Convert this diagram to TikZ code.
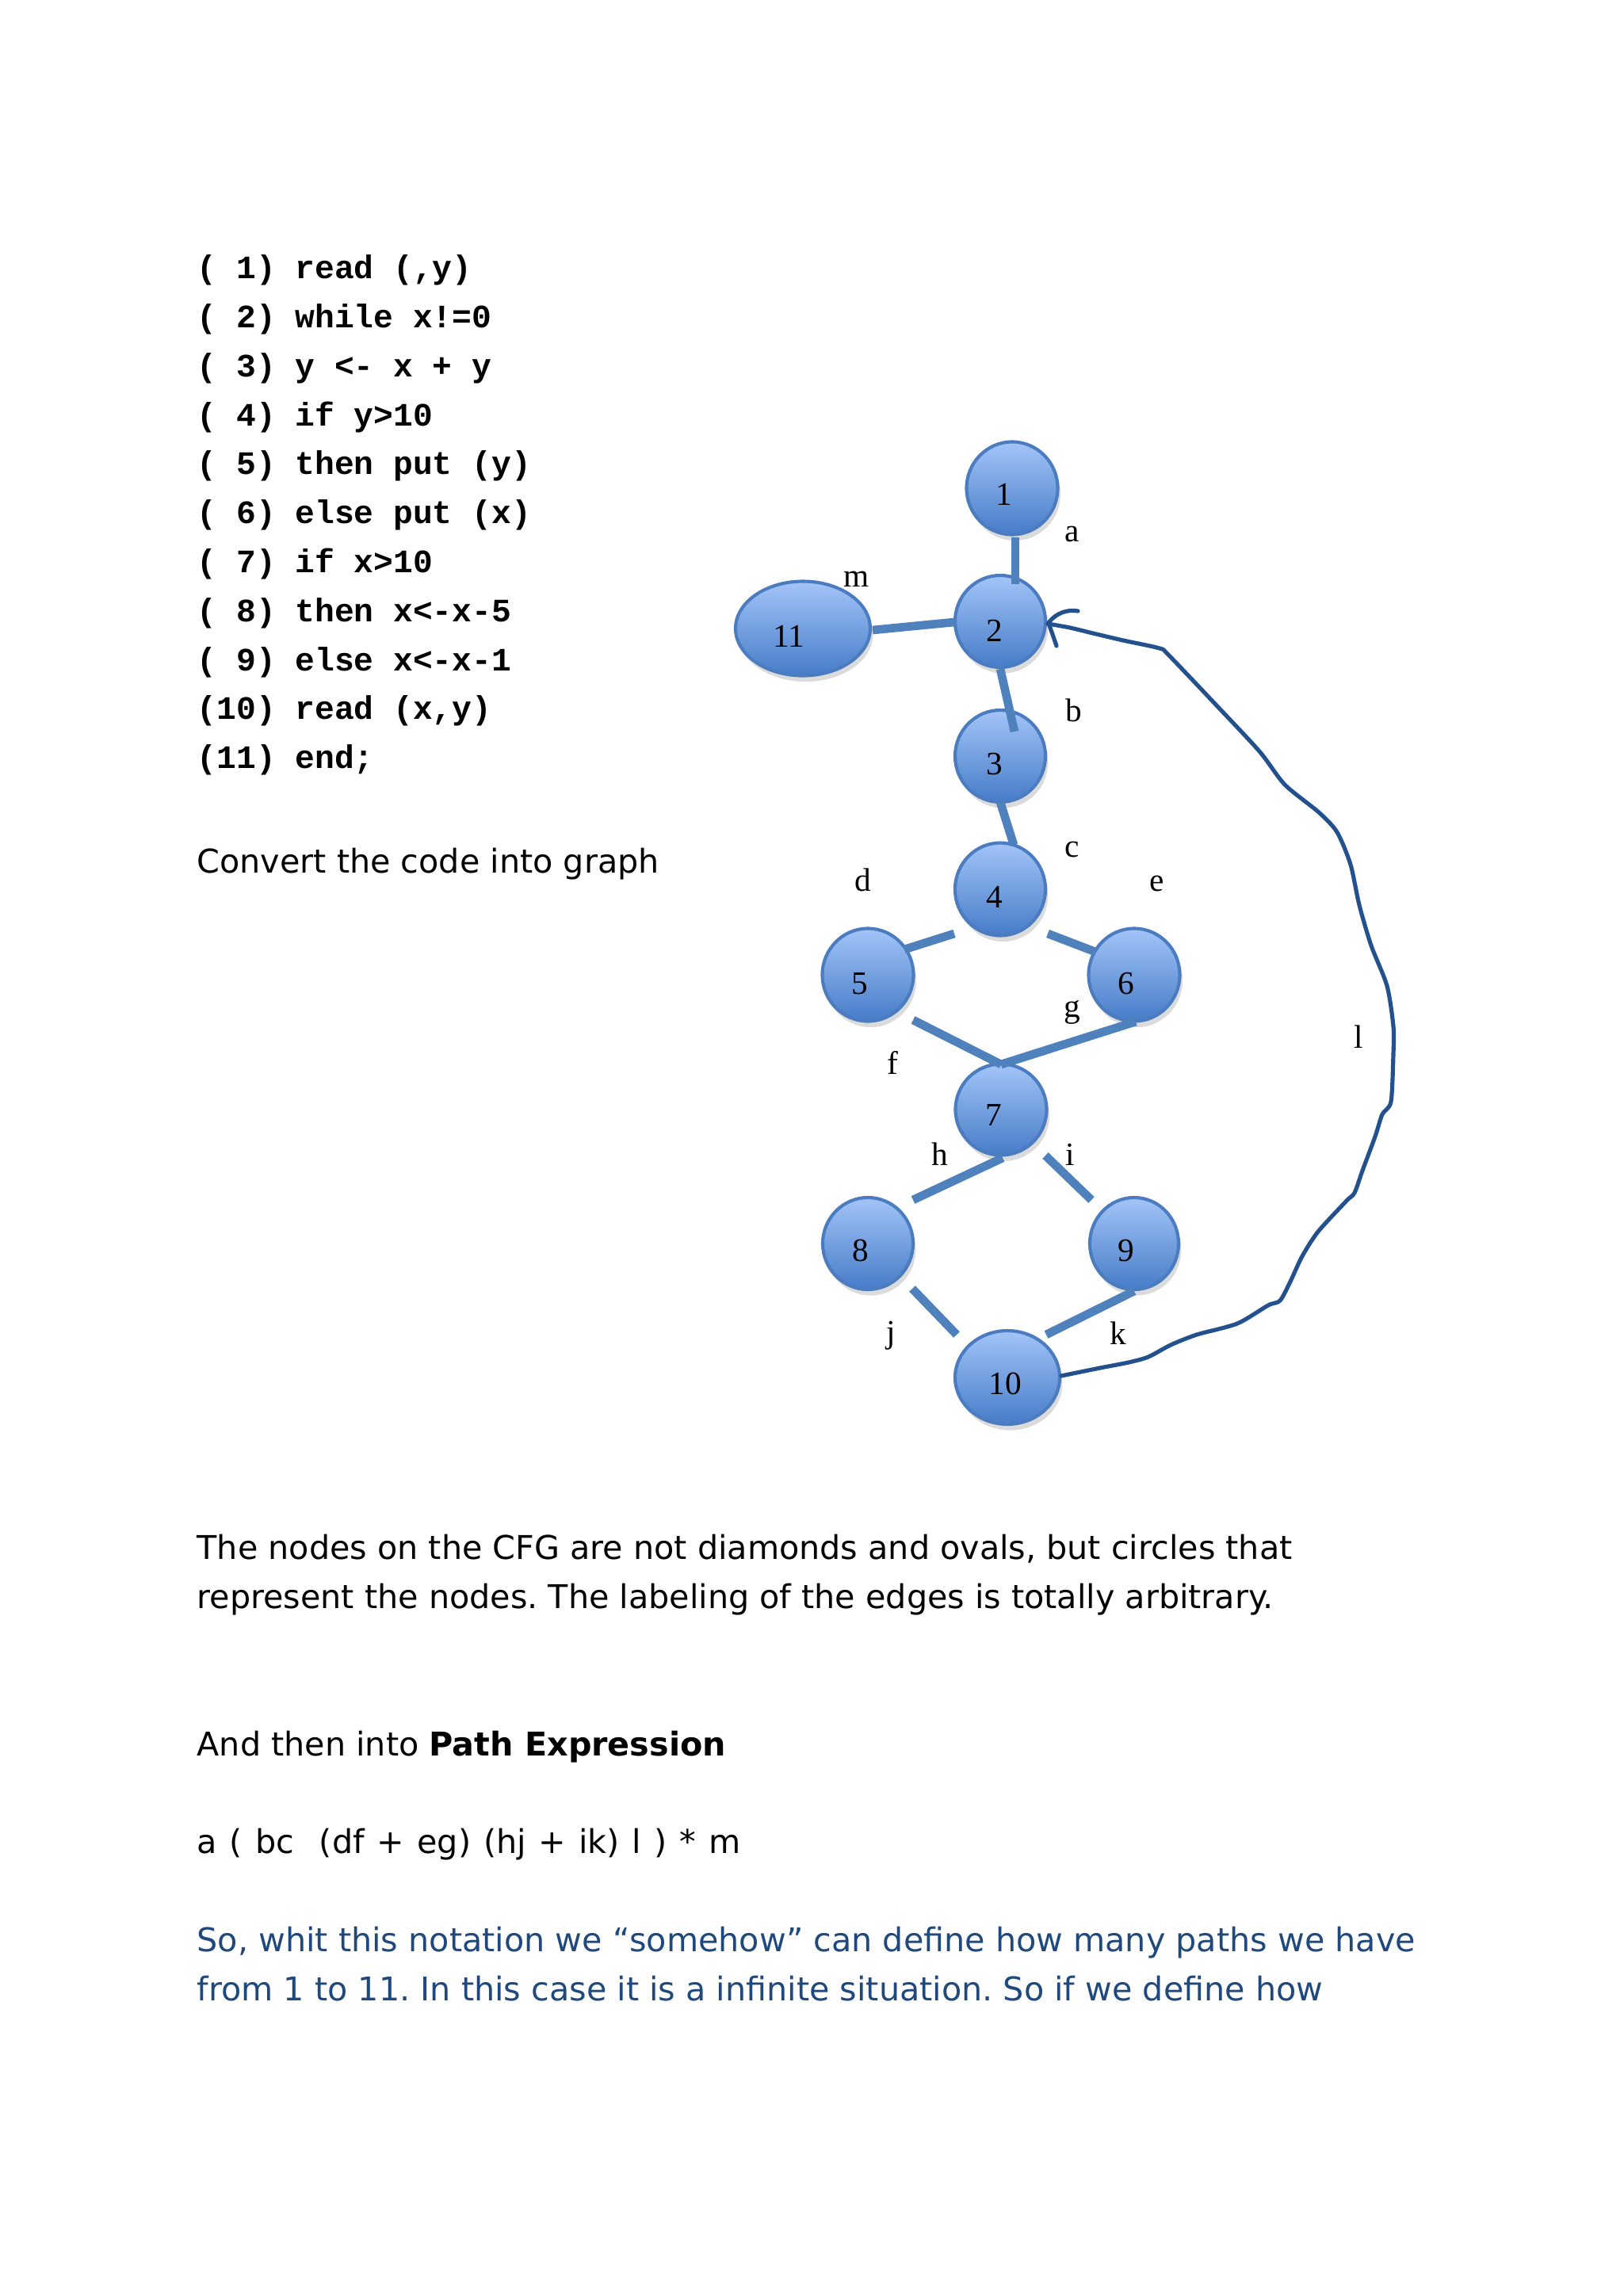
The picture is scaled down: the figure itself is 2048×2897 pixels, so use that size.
\documentclass[tikz,border=0pt]{standalone}
\usepackage{fontspec}
\setmainfont{DejaVu Sans}
\newfontfamily\codefont{Liberation Mono}
\newfontfamily\labfont{Liberation Serif}
\usetikzlibrary{shapes.geometric,shadows}
\definecolor{edgeblue}{HTML}{4F81BD}
\definecolor{nodetop}{HTML}{A2C4F8}
\definecolor{nodebot}{HTML}{477CC8}
\definecolor{nodeborder}{HTML}{4B7CC0}
\definecolor{loopblue}{HTML}{22518D}
\definecolor{textblue}{HTML}{1F497D}
\frenchspacing
\tikzset{
  cfgnode/.style={ellipse, draw=nodeborder, line width=1.2pt, top color=nodetop, bottom color=nodebot,
    inner sep=0pt, drop shadow={opacity=0.2, shadow xshift=1pt, shadow yshift=-2.2pt, fill=black!70}},
  numlab/.style={anchor=base, inner sep=0pt, font=\labfont\fontsize{12}{14}\selectfont},
  edgelab/.style={anchor=base, inner sep=0pt, font=\labfont\fontsize{12}{14}\selectfont},
  cfgedge/.style={draw=edgeblue, line width=3.1pt, line cap=butt},
  loopline/.style={draw=loopblue, line width=1.5pt, line cap=round, line join=round},
  codeline/.style={anchor=base west, inner sep=0pt, font=\codefont\bfseries\fontsize{12}{14}\selectfont},
  bodyline/.style={anchor=base west, inner sep=0pt, font=\fontsize{12}{14}\selectfont},
}
\begin{document}
\begin{tikzpicture}[x=0.29066pt,y=-0.29066pt]
\useasboundingbox (0,0) rectangle (2048,2897);
\fill[white] (0,0) rectangle (2048,2897);

% code listing
\node[codeline] (c1)  at (248,351.7) {( 1) read (,y)};
\node[codeline] (c2)  at (248,413.5) {( 2) while x!=0};
\node[codeline] (c3)  at (248,475.3) {( 3) y <- x + y};
\node[codeline] (c4)  at (248,537.1) {( 4) if y>10};
\node[codeline] (c5)  at (248,598.9) {( 5) then put (y)};
\node[codeline] (c6)  at (248,660.7) {( 6) else put (x)};
\node[codeline] (c7)  at (248,722.5) {( 7) if x>10};
\node[codeline] (c8)  at (248,784.3) {( 8) then x<-x-5};
\node[codeline] (c9)  at (248,846.1) {( 9) else x<-x-1};
\node[codeline] (c10) at (248,907.9) {(10) read (x,y)};
\node[codeline] (c11) at (248,969.7) {(11) end;};

\node[bodyline] (conv) at (248,1101) {Convert the code into graph};

% graph nodes
\node[cfgnode, minimum width=115*0.29066pt, minimum height=117*0.29066pt] (n1) at (1277,616) {};
\node[cfgnode, minimum width=114*0.29066pt, minimum height=116*0.29066pt] (n2) at (1262,784) {};
\node[cfgnode, minimum width=170*0.29066pt, minimum height=119*0.29066pt] (n11) at (1013,793) {};
\node[cfgnode, minimum width=114*0.29066pt, minimum height=116*0.29066pt] (n3) at (1262,954) {};
\node[cfgnode, minimum width=114*0.29066pt, minimum height=117*0.29066pt] (n4) at (1262,1122) {};
\node[cfgnode, minimum width=115*0.29066pt, minimum height=117*0.29066pt] (n5) at (1095,1230) {};
\node[cfgnode, minimum width=115*0.29066pt, minimum height=117*0.29066pt] (n6) at (1431,1230) {};
\node[cfgnode, minimum width=115*0.29066pt, minimum height=115*0.29066pt] (n7) at (1263,1400) {};
\node[cfgnode, minimum width=114*0.29066pt, minimum height=116*0.29066pt] (n8) at (1095,1569) {};
\node[cfgnode, minimum width=112*0.29066pt, minimum height=116*0.29066pt] (n9) at (1431,1569) {};
\node[cfgnode, minimum width=132*0.29066pt, minimum height=118*0.29066pt] (n10) at (1271,1738) {};

% node numbers
\node[numlab] (t1) at (1267,637) {1};
\node[numlab] (t2) at (1255,809) {2};
\node[numlab] (t3) at (1255,977) {3};
\node[numlab] (t4) at (1255,1145) {4};
\node[numlab] (t5) at (1085,1254) {5};
\node[numlab] (t6) at (1421,1254) {6};
\node[numlab] (t7) at (1254,1420) {7};
\node[numlab] (t8) at (1086,1591) {8};
\node[numlab] (t9) at (1421,1591) {9};
\node[numlab] (t10) at (1268,1759) {10};
\node[numlab] (t11) at (995,816) {11};

% edges
\draw[cfgedge] ([shift={(4,62)}]n1.center) -- ([shift={(19,-47)}]n2.center);
\draw[cfgedge] ([shift={(88,2)}]n11.center) -- ([shift={(-58,1)}]n2.center);
\draw[cfgedge] ([shift={(0,60)}]n2.center) -- ([shift={(18,-31)}]n3.center);
\draw[cfgedge] ([shift={(0,58)}]n3.center) -- ([shift={(17,-56)}]n4.center);
\draw[cfgedge] ([shift={(46,-32)}]n5.center) -- ([shift={(-58,56)}]n4.center);
\draw[cfgedge] ([shift={(60,56)}]n4.center) -- ([shift={(-49,-29)}]n6.center);
\draw[cfgedge] ([shift={(57,57)}]n5.center) -- ([shift={(0,-57)}]n7.center);
\draw[cfgedge] ([shift={(0,-57)}]n7.center) -- ([shift={(2,59)}]n6.center);
\draw[cfgedge] ([shift={(2,61)}]n7.center) -- ([shift={(57,-55)}]n8.center);
\draw[cfgedge] ([shift={(56,58)}]n7.center) -- ([shift={(-54,-55)}]n9.center);
\draw[cfgedge] ([shift={(56,57)}]n8.center) -- ([shift={(-64,-54)}]n10.center);
\draw[cfgedge] ([shift={(0,60)}]n9.center) -- ([shift={(49,-54)}]n10.center);

% loop edge l from 10 back to 2
\coordinate (ls) at ([shift={(68,-2)}]n10.center);
\coordinate (le) at ([shift={(60,3)}]n2.center);
\draw[loopline] plot[smooth, tension=0.45] coordinates {
  (ls) (1388,1726) (1424,1719) (1449,1712) (1477,1697) (1510,1684) (1561,1670)
  (1600,1647) (1615,1641) (1628,1617) (1643,1585) (1663,1554) (1699,1515)
  (1709,1505) (1719,1477) (1735,1434) (1744,1406) (1755,1390) (1758,1330)
  (1758,1295) (1750,1244) (1730,1193) (1715,1142) (1704,1091) (1687,1050)
  (1664,1025) (1621,990) (1589,948) (1532,887) (1474,826) (1463,818)
  (1417,808) (1383,800) (1350,792) (le)};
\draw[loopline] (le) .. controls (1333,772) and (1348,769) .. (1360,771);
\draw[loopline] ([shift={(2,2)}]le) -- (1333,815);

% edge labels
\node[edgelab] (la) at (1353,683) {a};
\node[edgelab] (lm) at (1081,740) {m};
\node[edgelab] (lb) at (1355,910) {b};
\node[edgelab] (lc) at (1353,1081) {c};
\node[edgelab] (ld) at (1089,1124) {d};
\node[edgelab] (lE) at (1460,1124) {e};
\node[edgelab] (lg) at (1353,1283) {g};
\node[edgelab] (ll) at (1714,1322) {l};
\node[edgelab] (lf) at (1126,1355) {f};
\node[edgelab] (lh) at (1186,1470) {h};
\node[edgelab] (li) at (1350,1470) {i};
\node[edgelab] (lj) at (1124,1694) {j};
\node[edgelab] (lk) at (1411,1696) {k};

% text below
\node[bodyline] (p1) at (248,1967.7) {The nodes on the CFG are not diamonds and ovals, but circles that};
\node[bodyline] (p2) at (248,2029) {represent the nodes. The labeling of the edges is totally arbitrary.};
\node[bodyline] (p3) at (248,2215) {And then into \textbf{Path Expression}};
\node[bodyline] (p4) at (248,2338) {\spaceskip=4.65pt a ( bc\ \ (df + eg) (hj + ik) l ) * m};
\node[bodyline, text=textblue] (p5) at (248,2462.7) {So, whit this notation we “somehow” can define how many paths we have};
\node[bodyline, text=textblue] (p6) at (248,2524) {from 1 to 11. In this case it is a infinite situation. So if we define how};
\end{tikzpicture}
\end{document}
